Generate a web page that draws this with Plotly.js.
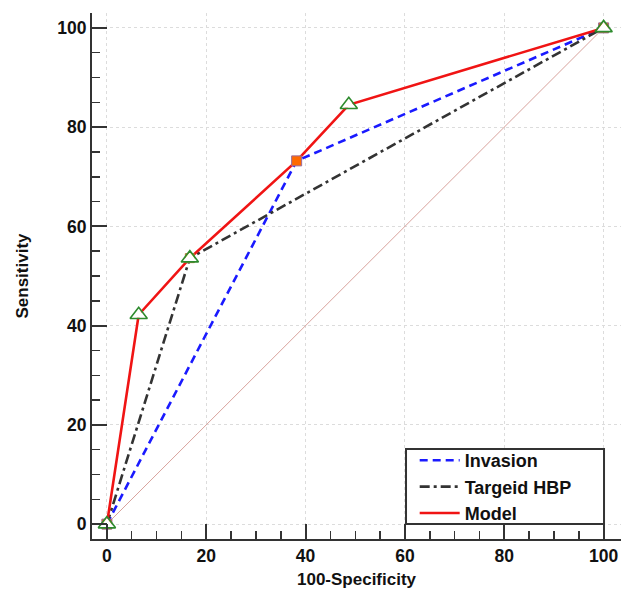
<!DOCTYPE html>
<html>
<head>
<meta charset="utf-8">
<script src="https://cdn.plot.ly/plotly-3.0.1.min.js"></script>
<style>
  html, body { margin: 0; padding: 0; background: #fff; }
  #chart { width: 638px; height: 602px; }
</style>
</head>
<body>
<div id="chart"></div>
<script>
// ROC points (100-Specificity, Sensitivity)
const invasionX = [0, 38.2, 100];
const invasionY = [0, 73.2, 100];

const hbpX = [0, 16.7, 100];
const hbpY = [0, 53.6, 100];

const modelX = [0, 6.4, 16.7, 38.2, 48.7, 100];
const modelY = [0, 42.2, 53.6, 73.2, 84.5, 100];

// model operating points drawn with a triangle (the 38.2 point shows the invasion square instead)
const modelMarkerOpacity = [1, 1, 1, 0, 1, 1];

const diagX = [0, 100];
const diagY = [0, 100];

const tickVals = [0, 20, 40, 60, 80, 100];

const fontFamily = '"Liberation Sans", Arial, sans-serif';

const traces = [
  {
    x: diagX, y: diagY, mode: 'lines', showlegend: false, hoverinfo: 'skip',
    line: { color: '#d8a29c', width: 1 }
  },
  {
    x: invasionX, y: invasionY, mode: 'lines', name: 'Invasion',
    line: { color: '#1a1aff', width: 2.6, dash: '8px,5px' }
  },
  {
    x: hbpX, y: hbpY, mode: 'lines', name: 'Targeid HBP',
    line: { color: '#333333', width: 2.6, dash: '10px,4px,3px,4px' }
  },
  {
    x: modelX, y: modelY, mode: 'lines', name: 'Model',
    line: { color: '#f01414', width: 2.6 }
  },
  {
    x: hbpX, y: hbpY, mode: 'markers', showlegend: false,
    marker: { symbol: 'square', size: 9, color: '#f5b324', line: { color: '#b07a3a', width: 1 } }
  },
  {
    x: invasionX, y: invasionY, mode: 'markers', showlegend: false,
    marker: { symbol: 'square', size: 10, color: '#ff6a00', line: { color: '#9a6a9a', width: 1 } }
  },
  {
    x: modelX, y: modelY, mode: 'markers', showlegend: false, hoverinfo: 'skip',
    marker: { symbol: 'triangle-up', size: 12, color: '#ffffff', opacity: modelMarkerOpacity, line: { width: 0 } }
  },
  {
    x: modelX, y: modelY, mode: 'markers', showlegend: false,
    marker: {
      symbol: 'triangle-up-open', size: 15, color: '#2e8b2e',
      opacity: modelMarkerOpacity, line: { color: '#2e8b2e', width: 1.6 }
    }
  }
];

const tickFont = { family: fontFamily, size: 17.5, color: '#111', weight: 'bold' };
const titleFont = { family: fontFamily, size: 17, color: '#111', weight: 'bold' };

const axisCommon = {
  tickvals: tickVals,
  ticks: 'inside',
  ticklen: 15,
  tickwidth: 2,
  tickcolor: '#333333',
  showline: true,
  linewidth: 2,
  linecolor: '#333333',
  showgrid: true,
  gridcolor: '#dcdcdc',
  griddash: 'dot',
  gridwidth: 1,
  zeroline: false,
  tickfont: tickFont,
  minor: { dtick: 5, ticks: 'inside', ticklen: 8, tickwidth: 1.5, tickcolor: '#333333', showgrid: false }
};

const layout = {
  width: 638,
  height: 602,
  margin: { l: 92, r: 17, t: 13, b: 63 },
  paper_bgcolor: '#ffffff',
  plot_bgcolor: '#ffffff',
  xaxis: Object.assign({}, axisCommon, {
    range: [-3, 103.5],
    title: { text: '100-Specificity', font: titleFont, standoff: 8 }
  }),
  yaxis: Object.assign({}, axisCommon, {
    range: [-3, 103],
    title: { text: 'Sensitivity', font: titleFont, standoff: 24 }
  }),
  // framed legend panel in the lower right corner of the plot area
  shapes: [{
    type: 'rect', xref: 'paper', yref: 'paper', layer: 'above',
    x0: 0.5936, x1: 0.9679, y0: 0.0285, y1: 0.171,
    fillcolor: '#ffffff', line: { color: '#333333', width: 2 }
  }],
  legend: {
    x: 0.610, y: 0.0989, xanchor: 'left', yanchor: 'middle',
    bgcolor: 'rgba(0,0,0,0)', borderwidth: 0,
    font: { family: fontFamily, size: 18, color: '#111', weight: 'bold' },
    itemwidth: 40, tracegroupgap: 0
  },
  showlegend: true
};

Plotly.newPlot('chart', traces, layout, { displayModeBar: false, staticPlot: true });
</script>
</body>
</html>
